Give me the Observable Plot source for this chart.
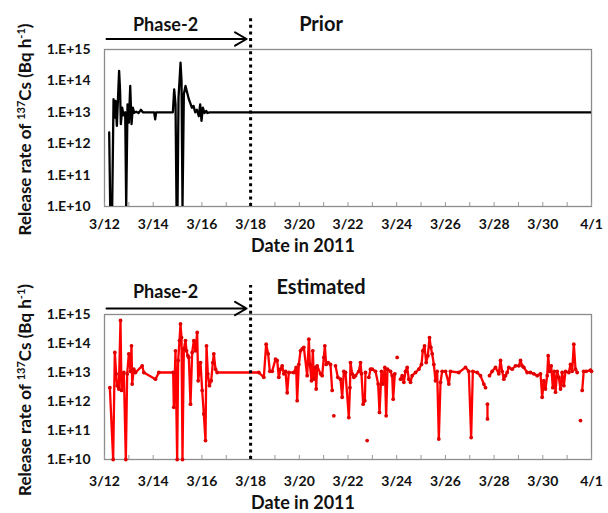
<!DOCTYPE html>
<html><head><meta charset="utf-8">
<script src="https://cdn.jsdelivr.net/npm/d3@7"></script>
<script src="https://cdn.jsdelivr.net/npm/@observablehq/plot@0.6"></script>
<style>
body{margin:0;background:#fff;}
#chart{width:608px;height:513px;overflow:hidden;position:relative;}
#chart svg{display:block;}
</style></head><body><div id="chart"></div>
<script>
// ---------- data ----------
const xTickDays = [0, 2, 4, 6, 8, 10, 12, 14, 16, 18, 20];           // days since 3/12/2011
const xTickLabels = ["3/12","3/14","3/16","3/18","3/20","3/22","3/24","3/26","3/28","3/30","4/1"];
const minorTickDays = d3.range(0, 21);
const yTickValues = [1e10, 1e11, 1e12, 1e13, 1e14, 1e15];
const yTickLabels = ["1.E+10","1.E+11","1.E+12","1.E+13","1.E+14","1.E+15"];
const xLabel = "Date in 2011";
const phase2 = {start: 0, end: 6, label: "Phase-2"};
const panelTitles = ["Prior", "Estimated"];

// [day since 3/12 00:00, release rate Bq/h]
const prior = [
[0.193,2.3e12],[0.234,1e10],[0.316,1e10],[0.371,2.6e13],[0.412,6.8e12],[0.453,2.3e13],
[0.508,3.7e12],[0.60,2.1e14],[0.64,4.8e13],[0.672,4.2e12],[0.727,1.4e13],[0.781,8e12],
[0.850,1e13],[0.891,1e10],[0.946,1.8e13],[1.001,4.7e12],[1.056,6.9e13],[1.11,4.2e12],
[1.165,1.4e13],[1.22,9.6e12],[1.302,1.05e13],[1.398,9.5e12],[1.494,1.2e13],[1.575,1e13],
[2.04,1e13],[2.082,6e12],[2.12,1e13],[2.808,1e13],[2.862,5.4e13],[2.917,1.8e13],
[2.958,1e10],[2.999,1e10],[3.04,3e13],[3.081,1e14],[3.122,3.8e14],[3.163,1e14],
[3.204,1e10],[3.259,3.8e13],[3.327,6.9e13],[3.409,3.8e13],[3.464,2.6e13],[3.519,2e13],
[3.587,1.4e13],[3.656,1.6e13],[3.724,1e13],[3.793,1.2e13],[3.875,7.5e12],[3.929,1.8e13],
[3.984,5.3e12],[4.039,1.4e13],[4.107,9.5e12],[4.176,1.1e13],[4.23,9.5e12],[4.313,1e13],
[20,1e13]
];

// null = gap in the line
const estimated = [
[0.219,3.0e12],[0.356,1e10],[0.424,4.9e13],[0.479,9e12],[0.520,3.5e12],[0.589,2.7e12],
[0.657,6.2e14],[0.698,2.4e12],[0.794,1e13],[0.876,1e10],[0.931,8.9e12],[0.999,4.4e13],
[1.068,1.1e13],[1.109,8.3e13],[1.136,4e12],[1.205,1.3e13],[1.273,1e13],[1.547,1.7e13],
[1.615,1e13],[2.094,5.9e12],[2.231,1e13],[2.820,1e13],[2.847,6.3e11],[2.916,5.6e13],
[2.984,1e10],[3.025,2.6e13],[3.080,1.26e14],[3.121,4.7e14],[3.162,1.6e14],[3.203,1e10],
[3.258,6.5e13],[3.326,1.26e14],[3.368,5.6e13],[3.422,3.8e13],[3.463,3.3e13],[3.532,8.1e11],
[3.600,4.9e13],[3.669,1.26e14],[3.737,5.6e13],[3.806,2.4e14],[3.847,5.2e12],[3.943,2.2e13],
[4.011,2.4e12],[4.079,3.7e11],[4.148,4.5e10],[4.189,8.3e13],[4.244,9e12],[4.312,3.5e12],
[4.381,5.2e12],[4.449,2.2e13],[4.490,4.4e13],[4.559,1.3e13],[4.627,1e13],[6.338,1e13],
[6.543,6.8e12],[6.639,9.5e13],[6.721,4.4e13],[6.790,1.1e13],[6.886,1.1e13],[7.023,2.9e13],
[7.091,2.6e13],[7.159,6.8e12],[7.228,1.3e13],[7.296,1.7e13],[7.365,9e12],[7.433,1.1e13],
[7.502,2e12],[7.570,1e13],[7.775,1e13],[7.871,1.5e13],[7.912,1.07e12],[7.981,1.9e13],
[8.049,5.6e13],[8.118,6.5e13],[8.186,7.4e13],[8.323,7.8e12],[8.392,1.4e14],[8.433,1.9e13],
[8.501,5.2e12],[8.556,5.6e13],[8.597,5.9e12],[8.665,1.5e13],[8.693,2.7e12],[8.734,1.7e13],
[8.871,9e12],[8.939,7.8e12],[9.008,3.3e13],[9.049,8.3e13],[9.103,1.9e13],[9.186,2.2e13],
[9.281,1.9e13],[9.350,2.4e12],[9.38,null],[9.418,3.2e11],[9.45,null],[9.487,1.7e13],
[9.582,6.8e12],[9.692,5.9e12],[9.761,1.4e12],[9.829,1.1e13],[9.897,1e13],[10.034,2.8e11],
[10.08,3e12],[10.103,2.2e13],[10.171,9e12],[10.239,6.8e12],[10.308,7.8e12],[10.445,1.1e13],
[10.513,2.2e13],[10.554,9e12],[10.623,8.1e11],[10.691,1.07e12],[10.719,1e13],[10.75,null],
[10.787,4.5e10],[10.82,null],[10.856,6.8e12],[10.924,1.3e13],[10.993,1.3e13],[11.129,1.1e13],
[11.239,4e12],[11.294,4.2e11],[11.376,1.1e13],[11.431,4e12],[11.513,1.5e13],[11.567,3.2e11],
[11.622,1.3e13],[11.745,1.1e13],[11.814,7.8e12],[11.855,1.2e12],[11.923,9e12],[11.97,null],
[12.019,3.3e13],[12.08,null],[12.156,5.9e12],[12.224,7.8e12],[12.293,4.6e12],[12.361,1.1e13],
[12.430,1.5e13],[12.498,5.9e12],[12.567,4.6e12],[12.635,7.8e12],[12.772,1e13],[12.909,1.3e13],
[13.018,1.9e13],[13.073,5.6e13],[13.142,8.3e13],[13.210,2.2e13],[13.279,3.8e13],[13.347,1.6e14],
[13.402,7.4e13],[13.457,4.4e13],[13.525,1.9e13],[13.593,5.2e12],[13.662,1.1e13],[13.730,5.1e10],
[13.799,4.6e12],[13.867,1.1e13],[14.004,1.1e13],[14.141,4e12],[14.209,1.1e13],[14.552,1e13],
[14.825,1.5e13],[14.962,1.1e13],[15.058,5.7e10],[15.127,1.1e13],[15.305,1e13],[15.441,7.8e12],
[15.578,4e12],[15.647,3e12],[15.69,null],[15.727,8.1e11],[15.729,2.5e11],[15.77,null],
[15.811,7.8e12],[15.920,1.1e13],[16.057,1.5e13],[16.194,9e12],[16.263,2.6e13],[16.331,1.1e13],
[16.400,5.9e12],[16.468,7.8e12],[16.537,1e13],[16.605,1.5e13],[16.742,1.3e13],[16.879,1.7e13],
[17.016,1.7e13],[17.084,2.6e13],[17.153,1.7e13],[17.221,1.5e13],[17.358,1e13],[17.495,1e13],
[17.632,9e12],[17.769,7.8e12],[17.906,9e12],[17.974,1.4e12],[18.043,5.2e12],[18.111,2.7e12],
[18.180,7.8e12],[18.221,3.8e13],[18.275,1.1e13],[18.344,1.7e13],[18.412,3e12],[18.467,1.1e13],
[18.522,2.1e12],[18.590,1.1e13],[18.658,6.8e12],[18.727,2.7e12],[18.795,1e13],[18.864,3.5e12],
[18.932,1.1e13],[19.069,1e13],[19.138,1.9e13],[19.206,1.1e13],[19.274,9.5e13],[19.343,1.3e13],
[19.411,1e13],[19.48,null],[19.548,2.2e11],[19.58,null],[19.617,2.4e12],[19.68,1.1e13],
[19.78,1.1e13],[19.96,1.2e13],[20.0,1.1e13]
];

// ---------- drawing ----------
function panel(opts) {
  const {series, color, title, height, marginTop, marginBottom, tickPad, dots,
         phaseDy, arrowDy, titleDy, xLabelDy, yLabelY} = opts;
  const plotH = height - marginTop - marginBottom;
  const marks = [
    Plot.frame({stroke: "#8c8c8c", strokeWidth: 1.3}),
    Plot.ruleX(minorTickDays, {insetTop: plotH - 4, stroke: "#999"}),
    Plot.axisY({ticks: yTickValues, tickFormat: d => yTickLabels[yTickValues.indexOf(d)], tickSize: 0,
                tickPadding: 14, label: null, fontSize: 14}),
    Plot.axisX({ticks: xTickDays, tickFormat: d => xTickLabels[xTickDays.indexOf(d)], tickSize: 0,
                tickPadding: tickPad, label: null, fontSize: 14}),
    Plot.line(series, {x: d => d[0], y: d => d[1], stroke: color, strokeWidth: 2.3, clip: true}),
  ];
  if (dots) marks.push(Plot.dot(series.filter(d => d[1] != null), {x: d => d[0], y: d => d[1], r: 1.9, fill: "#e00000", stroke: null}));
  marks.push(
    Plot.ruleX([phase2.end], {y1: yTickValues[0], y2: 1e16, stroke: "#000", strokeWidth: 3, strokeDasharray: "3,3.6"}),
    Plot.arrow([phase2], {x1: "start", x2: "end", y1: () => yTickValues[5], y2: () => yTickValues[5],
                          dy: arrowDy, stroke: "#000", strokeWidth: 2, headLength: 10, insetStart: 2, insetEnd: 4}),
    Plot.text([phase2], {x: d => (d.start + d.end) / 2, frameAnchor: "top", text: "label", dx: -12, dy: phaseDy,
                         lineAnchor: "bottom", fontSize: 18, fill: "#111"}),
    Plot.text([title], {frameAnchor: "top", text: d => d, dx: -27, dy: titleDy, lineAnchor: "bottom", fontSize: 20, fill: "#111"}),
    Plot.text([xLabel], {frameAnchor: "bottom", text: d => d, dx: -45, dy: xLabelDy, lineAnchor: "bottom", fontSize: 18, fill: "#111"})
  );
  const svg = Plot.plot({
    width: 608, height, marginTop, marginBottom, marginLeft: 104, marginRight: 17,
    x: {domain: [0, 20]},
    y: {type: "log", domain: [1e10, 1e15]},
    style: {fontFamily: "Lato, 'Open Sans', sans-serif", fontWeight: "bold", fontSize: "14px", color: "#111", background: "#fff", overflow: "visible"},
    marks
  });
  const t = d3.select(svg).append("text")
    .attr("transform", `translate(31,${yLabelY}) rotate(-90)`)
    .attr("text-anchor", "middle").attr("font-size", 17).attr("font-weight", "bold").attr("fill", "#111");
  t.append("tspan").text("Release rate of ");
  t.append("tspan").attr("font-size", 11).attr("dy", -6).text("137");
  t.append("tspan").attr("dy", 6).text("Cs (Bq h");
  t.append("tspan").attr("font-size", 11).attr("dy", -6).text("-1");
  t.append("tspan").attr("dy", 6).text(")");
  return svg;
}

const root = document.getElementById("chart");
root.appendChild(panel({series: prior, color: "#000", title: panelTitles[0], height: 257, marginTop: 49, marginBottom: 51,
  tickPad: 13, dots: false, phaseDy: -19, arrowDy: -10.5, titleDy: -19, xLabelDy: 45, yLabelY: 129.5}));
root.appendChild(panel({series: estimated, color: "#ff0000", title: panelTitles[1], height: 256, marginTop: 57, marginBottom: 54,
  tickPad: 17, dots: true, phaseDy: -16.7, arrowDy: -6, titleDy: -21, xLabelDy: 49, yLabelY: 133}));
</script></body></html>
